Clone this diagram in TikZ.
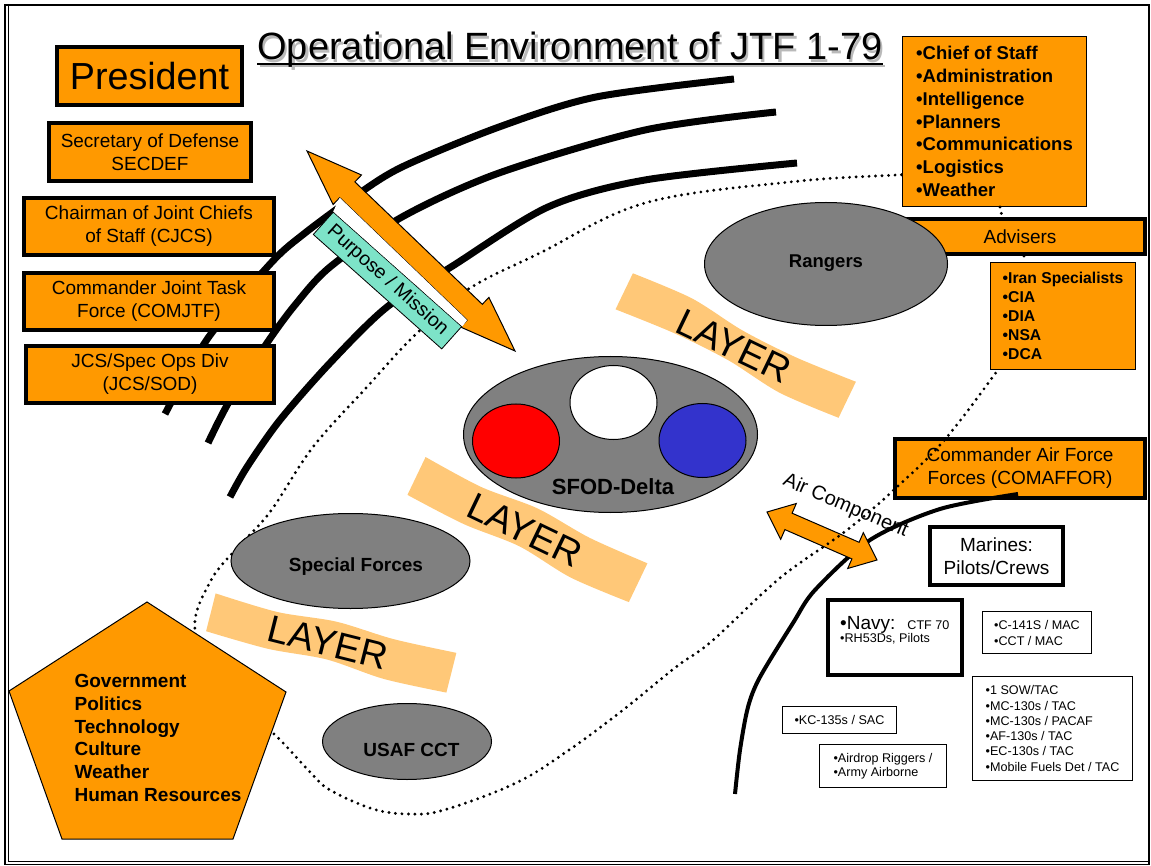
\documentclass[tikz,border=0pt]{standalone}
\usepackage{fontspec}
\setmainfont{Liberation Sans}
\usepackage{tikz}
\usetikzlibrary{shapes.geometric}
\definecolor{jtforange}{HTML}{FF9900}
\definecolor{unitgray}{HTML}{808080}
\definecolor{layerfill}{HTML}{FFC878}
\definecolor{missionteal}{HTML}{7DE3C8}
\definecolor{deltablue}{HTML}{3333CC}
\newcommand{\fsz}[2]{\fontsize{#1}{#2}\selectfont}
\tikzset{
  cmdbox/.style = {draw=black, line width=4pt, fill=jtforange, inner sep=0pt,
    align=center, font=\fsz{19}{23}},% boxes with a heavy frame
  listbox/.style = {draw=black, line width=1pt, fill=jtforange, inner sep=0pt,
    align=left},% orange lists
  airbox/.style = {draw=black, line width=1pt, fill=white, inner sep=0pt,
    align=left, font=\fsz{12.6}{15.3}},% small white boxes
  unitell/.style = {ellipse, draw=black, line width=1pt, fill=unitgray,
    inner sep=0pt},% grey ellipses
  unitlbl/.style = {inner sep=0pt, font=\bfseries\fsz{19}{23}},
  layerlbl/.style = {inner sep=0pt, font=\fsz{38}{40}},
  ringline/.style = {line width=7pt},% thick black arcs
  envline/.style = {line width=3.2pt, line cap=round,
    dash pattern=on 0pt off 6.5pt},% dotted boundary
  blockarrow/.style = {draw=black, line width=1pt, fill=jtforange}
}

\begin{document}
\begin{tikzpicture}[x=1pt,y=-1pt]
\useasboundingbox (0,0) rectangle (1151,866);
% frame
\draw[line width=1.5pt] (5,5) rectangle (1149,864.5);
\draw[line width=1pt] (8.5,5) -- (8.5,861) -- (1149,861);

% title with shadow
\node[gray!55, anchor=base, inner sep=0pt, font=\fsz{38}{40}] (titleshadow)
  at (572.5,62.5) {Operational Environment of JTF 1-79};
\draw[gray!55, line width=2pt] ([yshift=-4pt]titleshadow.base west)
  -- ([yshift=-4pt]titleshadow.base east);
\node[anchor=base, inner sep=0pt, font=\fsz{38}{40}] (title)
  at (570,60) {Operational Environment of JTF 1-79};
\draw[line width=2pt] ([yshift=-4pt]title.base west) -- ([yshift=-4pt]title.base east);

% thick arcs
\draw[ringline] plot[smooth] coordinates {(734,79) (596,97) (499,127) (402,167)
  (354,197) (305,233) (271,263) (208,338) (165,414)};
\draw[ringline] plot[smooth] coordinates {(776,112) (645,130) (499,173) (402,217)
  (330,267) (295,305) (267,343) (230,400) (208,443)};
\draw[ringline] plot[smooth] coordinates {(797,163) (645,180) (548,207) (451,267)
  (387,307) (330,363) (280,420) (247,467) (230,497)};

% air component
\node[cmdbox, minimum width=250pt, minimum height=59pt] (comaffor) at (1020,468.5)
  {Commander Air Force\\Forces (COMAFFOR)};
\draw[line width=4pt] plot[smooth] coordinates {(1018,494) (940,509) (870,540)
  (815,590) (793,623) (760,677) (748,707) (740,750) (735,794)};
\draw[blockarrow] (767,512) -- (796.3,503.5) -- (792.1,513.2) -- (859.1,542.3)
  -- (863.3,532.7) -- (877,560) -- (847.7,568.5) -- (851.9,558.9)
  -- (784.9,529.6) -- (780.7,539.3) -- cycle;
\node[anchor=base, inner sep=0pt, rotate=-23, font=\fsz{20}{22}] (airlbl)
  at (843.5,511) {Air Component};

% dotted boundary
\draw[envline] plot[smooth, tension=0.6] coordinates {(960,173) (897,175) (790,182)
  (645,203) (540,253) (467,290) (413,337) (367,387) (313,447) (270,512) (237,548)
  (210,582) (195,630) (222,690) (273,733) (310,772) (330,790) (373,809) (409,814)
  (444,810) (516,783) (569,750) (623,710) (676,667) (712,641) (780,578) (847,530)
  (897,487) (947,437) (1005,360)};

% chain of command
\node[cmdbox, minimum width=185pt, minimum height=58pt, font=\fsz{37.7}{40}]
  (president) at (149.5,76) {President};
\node[cmdbox, minimum width=202pt, minimum height=58pt] (secdef) at (150,152)
  {Secretary of Defense\\SECDEF};
\node[cmdbox, minimum width=250pt, minimum height=57pt] (cjcs) at (149,226.5)
  {Chairman of Joint Chiefs\\of Staff (CJCS)};
\node[cmdbox, minimum width=250pt, minimum height=57pt] (comjtf) at (149,301.5)
  {Commander Joint Task\\Force (COMJTF)};
\node[cmdbox, minimum width=248pt, minimum height=57pt] (jcssod) at (150,374.5)
  {JCS/Spec Ops Div\\(JCS/SOD)};

% purpose / mission
\draw[blockarrow] (307,151) -- (361.5,175) -- (354.9,181.9) -- (482.3,304.3)
  -- (488.9,297.4) -- (515,351) -- (460.5,327) -- (467.1,320.1)
  -- (339.7,197.7) -- (333.1,204.5) -- cycle;
\node[draw=black, line width=0.8pt, fill=missionteal, rotate=-41.7, inner sep=0pt,
  minimum width=172pt, minimum height=30pt, font=\fsz{19.5}{20}] (mission)
  at (387.5,280.5) {Purpose / Mission};
\fill[white] (mission.north west) -- (339.7,197.7) -- (467.1,320.1)
  -- (mission.north east) -- cycle;

% staff and advisers
\node[listbox, minimum width=184pt, minimum height=170pt,
  font=\bfseries\fsz{18.5}{22.8}] (staff) at (994.5,121.5)
  {•Chief of Staff\\•Administration\\•Intelligence\\•Planners\\•Communications\\•Logistics\\•Weather};
\node[cmdbox, minimum width=250pt, minimum height=35pt] (advisers) at (1020,236.5)
  {Advisers};
\node[listbox, minimum width=145pt, minimum height=107pt,
  font=\bfseries\fsz{15.7}{19}] (iran) at (1063,316)
  {•Iran Specialists\\•CIA\\•DIA\\•NSA\\•DCA};
\draw[envline] ([xshift=5.5pt]staff.south) -- ([xshift=-18pt]advisers.north);
\draw[envline] ([xshift=4pt]advisers.south) -- ([xshift=-39pt]iran.north);

% layers
\begin{scope}[shift={(735.5,346)}, rotate=-25.7]
  \fill[layerfill] plot[smooth] coordinates {(-124,-21) (-60,-24) (0,-17) (60,-16) (124,-20)}
    -- plot[smooth] coordinates {(124,20) (60,23) (0,16) (-60,15) (-124,19)} -- cycle;
\end{scope}
\node[layerlbl, rotate=-25.7] (layerA) at (734,346) {LAYER};
\begin{scope}[shift={(527,530)}, rotate=-25.6]
  \fill[layerfill] plot[smooth] coordinates {(-123,-22) (-60,-19) (0,-24) (60,-20) (123,-22)}
    -- plot[smooth] coordinates {(123,21) (60,24) (0,18) (-60,22) (-123,20)} -- cycle;
\end{scope}
\node[layerlbl, rotate=-25.6] (layerB) at (525,530) {LAYER};
\begin{scope}[shift={(331,643)}, rotate=-14.1]
  \fill[layerfill] plot[smooth] coordinates {(-124,-20) (-60,-17) (0,-22) (60,-19) (124,-21)}
    -- plot[smooth] coordinates {(124,20) (60,22) (0,17) (-60,21) (-124,19)} -- cycle;
\end{scope}
\node[layerlbl, rotate=-14.1] (layerC) at (328,643) {LAYER};

% units
\node[unitell, minimum width=243pt, minimum height=123pt] (rangers) at (826,264) {};
\node[unitlbl, font=\bfseries\fsz{18.5}{20}] (rangerslbl) at (826,263) {Rangers};
\node[unitell, minimum width=294pt, minimum height=156pt] (sfod) at (610.5,434.5) {};
\node[unitell, fill=red, minimum width=87pt, minimum height=74pt] (redcirc) at (516,441) {};
\node[unitell, fill=white, minimum width=87pt, minimum height=74pt] (whitecirc) at (613.5,402.5) {};
\node[unitell, fill=deltablue, minimum width=87pt, minimum height=74pt] (bluecirc) at (702.5,440.5) {};
\node[unitlbl, font=\bfseries\fsz{22}{24}] (sfodlbl) at (613,487) {SFOD-Delta};
\node[unitell, minimum width=239pt, minimum height=95pt] (spforces) at (350.5,561) {};
\node[unitlbl] (spforceslbl) at (356,567) {Special Forces};
\node[unitell, minimum width=169pt, minimum height=76pt] (usafcct) at (407,741.5) {};
\node[unitlbl] (usafcctlbl) at (411.5,750) {USAF CCT};

% environment
\draw[fill=jtforange, line width=1pt] (147,602) -- (286,692) -- (233,839)
  -- (62,839) -- (9,691) -- cycle;
\node[align=left, inner sep=0pt, font=\bfseries\fsz{19}{22.8}] (factors) at (158,738)
  {Government\\Politics\\Technology\\Culture\\Weather\\Human Resources};

% supporting forces
\node[cmdbox, fill=white, minimum width=133pt, minimum height=58pt] (marines)
  at (996.5,556) {Marines:\\Pilots/Crews};
\node[cmdbox, fill=white, minimum width=134pt, minimum height=75pt] (navy) at (895,637.5) {};
\node[anchor=base west, inner sep=0pt, font=\fsz{19}{19}] (navyhead) at (840,629)
  {•Navy:\hspace{12pt}{\fsz{12.6}{15}CTF 70}};
\node[anchor=base west, inner sep=0pt, font=\fsz{12.6}{15}] (navysub) at (840,642.5)
  {•RH53Ds, Pilots};
\node[airbox, minimum width=109pt, minimum height=42pt, font=\fsz{12.6}{16}] (c141)
  at (1037,632.5) {•C-141S / MAC\\•CCT / MAC};
\node[airbox, minimum width=160pt, minimum height=104pt] (sow) at (1052.5,728.5)
  {•1 SOW/TAC\\•MC-130s / TAC\\•MC-130s / PACAF\\•AF-130s / TAC\\•EC-130s / TAC\\•Mobile Fuels Det / TAC};
\node[airbox, minimum width=114pt, minimum height=27pt] (kc135) at (839.5,720)
  {•KC-135s / SAC};
\node[airbox, minimum width=127pt, minimum height=43pt, font=\fsz{12.6}{14}] (airdrop)
  at (883,766) {•Airdrop Riggers /\\•Army Airborne};
\end{tikzpicture}
\end{document}
